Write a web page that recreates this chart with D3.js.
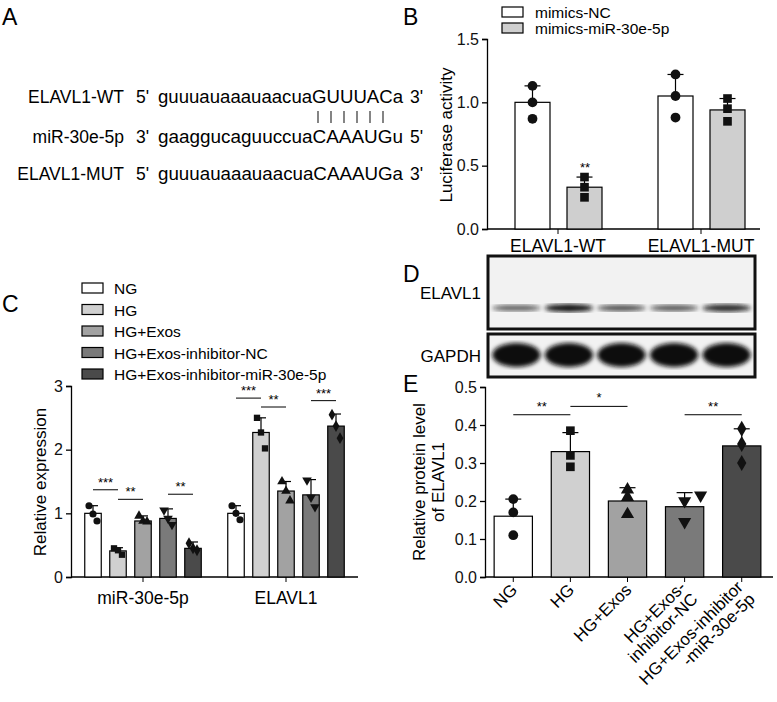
<!DOCTYPE html>
<html><head><meta charset="utf-8">
<script src="https://cdn.jsdelivr.net/npm/d3@7"></script>
<style>body{margin:0;background:#fff}svg{font-family:"Liberation Sans",Arial,sans-serif}</style>
</head><body><svg id="fig" width="777" height="702"></svg>
<script>
// Panel A sequences
const seqNames = ["ELAVL1-WT", "miR-30e-5p", "ELAVL1-MUT"];
const seqStart = ["5'", "3'", "5'"];
const seqBody = ["guuuauaaauaacuaGUUUACa", "gaaggucaguuccuaCAAAUGu", "guuuauaaauaacuaCAAAUGa"];
const seqEnd = ["3'", "5'", "3'"];

// Panel B
const bGroups = ["ELAVL1-WT", "ELAVL1-MUT"];
const bSeries = ["mimics-NC", "mimics-miR-30e-5p"];
const bMeans = [[1.0, 0.33], [1.05, 0.94]];
const bErr = [[1.13, 0.41], [1.22, 1.03]];
const bPoints = [[[1.13, 1.0, 0.87], [0.41, 0.33, 0.25]], [[1.22, 1.05, 0.88], [1.03, 0.95, 0.85]]];

// Panel C
const cGroups = ["miR-30e-5p", "ELAVL1"];
const cSeries = ["NG", "HG", "HG+Exos", "HG+Exos-inhibitor-NC", "HG+Exos-inhibitor-miR-30e-5p"];
const cColors = ["#ffffff", "#d0d0d0", "#a2a2a2", "#7a7a7a", "#4a4a4a"];
const cMeans = [[1.0, 0.41, 0.88, 0.92, 0.45], [1.0, 2.27, 1.35, 1.29, 2.37]];
const cErr = [[1.12, 0.46, 0.96, 1.07, 0.55], [1.12, 2.5, 1.5, 1.53, 2.56]];
const cPoints = [
  [[1.12, 0.99, 0.88], [0.45, 0.42, 0.35], [0.96, 0.88, 0.87], [1.05, 0.92, 0.82], [0.53, 0.45, 0.42]],
  [[1.12, 1.0, 0.9], [2.5, 2.27, 2.02], [1.5, 1.35, 1.2], [1.52, 1.25, 1.1], [2.55, 2.37, 2.18]]
];
const cSig = [[0, 0, 1, 1.37, "***"], [0, 1, 2, 1.22, "**"], [0, 3, 4, 1.3, "**"],
              [1, 0, 1, 2.81, "***"], [1, 1, 2, 2.67, "**"], [1, 3, 4, 2.77, "***"]];

// Panel D blot (relative band strength)
const elavlBands = [0.45, 0.95, 0.55, 0.5, 0.8];
const gapdhBands = [1, 1, 1, 1, 1];

// Panel E
const eLabels = [["NG"], ["HG"], ["HG+Exos"], ["HG+Exos-", "inhibitor-NC"], ["HG+Exos-inhibitor", "-miR-30e-5p"]];
const eMeans = [0.16, 0.33, 0.20, 0.185, 0.345];
const eErr = [0.205, 0.38, 0.235, 0.222, 0.39];
const ePoints = [[0.205, 0.17, 0.11], [0.385, 0.32, 0.29], [0.23, 0.21, 0.165], [0.2, 0.145, 0.215], [0.39, 0.35, 0.3]];
const eSig = [[0, 1, 0.427, "**"], [1, 2, 0.449, "*"], [3, 4, 0.427, "**"]];

const shapes = [d3.symbolCircle, d3.symbolSquare, d3.symbolTriangle, "down", d3.symbolDiamond];
const svg = d3.select("#fig");

function mark(g, x, y, si, size) {
  let t = shapes[si];
  let p;
  if (t === "down") p = g.append("path").attr("d", d3.symbol(d3.symbolTriangle, size)()).attr("transform", `translate(${x},${y}) rotate(180)`);
  else p = g.append("path").attr("d", d3.symbol(t, size)()).attr("transform", `translate(${x},${y})`);
  p.attr("fill", "#111");
}
function panelLabel(t, x, y) {
  svg.append("text").attr("x", x).attr("y", y).attr("font-size", 23).text(t);
}
function styleAxis(a) {
  a.selectAll("text").attr("font-size", 16).attr("fill", "#111");
  a.selectAll("line,path").attr("stroke-width", 1.3);
}

// ---------- A
panelLabel("A", 2, 25);
const gA = svg.append("g");
const rowY = [103, 143, 180];
seqNames.forEach((n, i) => {
  gA.append("text").attr("x", 124).attr("y", rowY[i]).attr("text-anchor", "end").attr("font-size", 17.5).text(n);
  gA.append("text").attr("x", 136).attr("y", rowY[i]).attr("font-size", 17.5).text(seqStart[i]);
  gA.append("text").attr("x", 158).attr("y", rowY[i]).attr("font-size", 17.5).attr("textLength", 245).attr("lengthAdjust", "spacingAndGlyphs").text(seqBody[i]);
  gA.append("text").attr("x", 410).attr("y", rowY[i]).attr("font-size", 17.5).text(seqEnd[i]);
});
d3.range(6).forEach(i => {
  const x = 318 + i * 13;
  gA.append("line").attr("x1", x).attr("x2", x).attr("y1", 111).attr("y2", 123).attr("stroke", "#333").attr("stroke-width", 1.2);
});

// ---------- B
panelLabel("B", 403, 25);
{
  const g = svg.append("g");
  const y = d3.scaleLinear().domain([0, 1.5]).range([229, 39]);
  const bw = 35;
  const offs = [-43, 9];
  g.append("g").attr("transform", "translate(487,0)").call(d3.axisLeft(y).tickValues([0, 0.5, 1.0, 1.5]).tickFormat(d3.format(".1f")).tickSize(5)).call(styleAxis);
  g.append("line").attr("x1", 487).attr("x2", 760).attr("y1", 229).attr("y2", 229).attr("stroke", "#000").attr("stroke-width", 1.3);
  const gc = [558, 701];
  bGroups.forEach((gn, gi) => {
    g.append("line").attr("x1", gc[gi]).attr("x2", gc[gi]).attr("y1", 229).attr("y2", 234).attr("stroke", "#000");
    g.append("text").attr("x", gc[gi]).attr("y", 252).attr("text-anchor", "middle").attr("font-size", 17.5).text(gn);
    bSeries.forEach((s, si) => {
      const bx = gc[gi] + offs[si];
      const cx = bx + bw / 2;
      g.append("rect").attr("x", bx).attr("y", y(bMeans[gi][si])).attr("width", bw).attr("height", y(0) - y(bMeans[gi][si]))
        .attr("fill", si ? "#cfcfcf" : "#fff").attr("stroke", "#000").attr("stroke-width", 1.2);
      g.append("line").attr("x1", cx).attr("x2", cx).attr("y1", y(bMeans[gi][si])).attr("y2", y(bErr[gi][si])).attr("stroke", "#000").attr("stroke-width", 1.2);
      g.append("line").attr("x1", cx - 8).attr("x2", cx + 8).attr("y1", y(bErr[gi][si])).attr("y2", y(bErr[gi][si])).attr("stroke", "#000").attr("stroke-width", 1.2);
      bPoints[gi][si].forEach(v => mark(g, cx, y(v), si, 75));
    });
  });
  g.append("text").attr("x", 585).attr("y", y(0.45)).attr("text-anchor", "middle").attr("font-size", 13).text("**");
  g.append("text").attr("transform", "translate(452,135) rotate(-90)").attr("text-anchor", "middle").attr("font-size", 17).text("Luciferase activity");
  bSeries.forEach((s, si) => {
    g.append("rect").attr("x", 502).attr("y", 7 + si * 16).attr("width", 21).attr("height", 10).attr("fill", si ? "#cfcfcf" : "#fff").attr("stroke", "#000").attr("stroke-width", 1.2);
    g.append("text").attr("x", 535).attr("y", 18 + si * 16).attr("font-size", 15.5).text(s);
  });
}

// ---------- C
panelLabel("C", 2, 312);
{
  const g = svg.append("g");
  const y = d3.scaleLinear().domain([0, 3]).range([577, 386]);
  g.append("g").attr("transform", "translate(71,0)").call(d3.axisLeft(y).ticks(3).tickSize(5)).call(styleAxis);
  g.append("line").attr("x1", 71).attr("x2", 358).attr("y1", 577).attr("y2", 577).attr("stroke", "#000").attr("stroke-width", 1.3);
  const gc = [143, 286];
  const bw = 16.5;
  const step = 25;
  cGroups.forEach((gn, gi) => {
    g.append("line").attr("x1", gc[gi]).attr("x2", gc[gi]).attr("y1", 577).attr("y2", 582).attr("stroke", "#000");
    g.append("text").attr("x", gc[gi]).attr("y", 604).attr("text-anchor", "middle").attr("font-size", 17.5).text(gn);
    cSeries.forEach((s, si) => {
      const cx = gc[gi] + (si - 2) * step;
      g.append("rect").attr("x", cx - bw / 2).attr("y", y(cMeans[gi][si])).attr("width", bw).attr("height", y(0) - y(cMeans[gi][si]))
        .attr("fill", cColors[si]).attr("stroke", "#000").attr("stroke-width", 1.2);
      g.append("line").attr("x1", cx).attr("x2", cx).attr("y1", y(cMeans[gi][si])).attr("y2", y(cErr[gi][si])).attr("stroke", "#000").attr("stroke-width", 1.2);
      g.append("line").attr("x1", cx - 5).attr("x2", cx + 5).attr("y1", y(cErr[gi][si])).attr("y2", y(cErr[gi][si])).attr("stroke", "#000").attr("stroke-width", 1.2);
      cPoints[gi][si].forEach((v, k) => mark(g, cx + (k - 1) * 4, y(v), si, 40));
    });
  });
  cSig.forEach(([gi, a, b, v, t]) => {
    const xa = gc[gi] + (a - 2) * step, xb = gc[gi] + (b - 2) * step;
    g.append("line").attr("x1", xa).attr("x2", xb).attr("y1", y(v)).attr("y2", y(v)).attr("stroke", "#000");
    g.append("text").attr("x", (xa + xb) / 2).attr("y", y(v) - 3).attr("text-anchor", "middle").attr("font-size", 13).text(t);
  });
  g.append("text").attr("transform", "translate(46,482) rotate(-90)").attr("text-anchor", "middle").attr("font-size", 17).text("Relative expression");
  cSeries.forEach((s, si) => {
    const yy = 288 + si * 21.5;
    g.append("rect").attr("x", 82).attr("y", yy - 5).attr("width", 21).attr("height", 10).attr("fill", cColors[si]).attr("stroke", "#000").attr("stroke-width", 1.2);
    g.append("text").attr("x", 114).attr("y", yy + 6).attr("font-size", 15.5).text(s);
  });
}

// ---------- D
panelLabel("D", 403, 282);
{
  const g = svg.append("g");
  const defs = svg.append("defs");
  defs.append("filter").attr("id", "blur").append("feGaussianBlur").attr("stdDeviation", 2.2);
  const lane = d3.scaleBand().domain(d3.range(5)).range([488, 755]).padding(0.08);
  const boxes = [[256, 329, elavlBands, 308, 8, "ELAVL1"], [334, 377, gapdhBands, 355, 24, "GAPDH"]];
  boxes.forEach(([t, b, vals, cy, h, name]) => {
    g.append("rect").attr("x", 488).attr("y", t).attr("width", 267).attr("height", b - t).attr("fill", "#f2f2f2").attr("stroke", "#111").attr("stroke-width", 3);
    vals.forEach((v, i) => {
      g.append("ellipse").attr("cx", lane(i) + lane.bandwidth() / 2).attr("cy", cy).attr("rx", lane.bandwidth() / 2)
        .attr("ry", h / 2 * (0.6 + 0.4 * v)).attr("fill", "#111").attr("opacity", 0.3 + 0.7 * v).attr("filter", "url(#blur)");
    });
    g.append("text").attr("x", 481).attr("y", (t + b) / 2 + 6).attr("text-anchor", "end").attr("font-size", 17).text(name);
  });
}

// ---------- E
panelLabel("E", 403, 392);
{
  const g = svg.append("g");
  const y = d3.scaleLinear().domain([0, 0.5]).range([577, 387]);
  const x = d3.scaleBand().domain(d3.range(5)).range([485, 770]).paddingInner(0.33).paddingOuter(0.16);
  g.append("g").attr("transform", "translate(485,0)").call(d3.axisLeft(y).ticks(5).tickFormat(d3.format(".1f")).tickSize(5)).call(styleAxis);
  g.append("line").attr("x1", 485).attr("x2", 773).attr("y1", 577).attr("y2", 577).attr("stroke", "#000").attr("stroke-width", 1.3);
  eMeans.forEach((m, i) => {
    const cx = x(i) + x.bandwidth() / 2;
    g.append("rect").attr("x", x(i)).attr("y", y(m)).attr("width", x.bandwidth()).attr("height", y(0) - y(m))
      .attr("fill", cColors[i]).attr("stroke", "#000").attr("stroke-width", 1.2);
    g.append("line").attr("x1", cx).attr("x2", cx).attr("y1", y(m)).attr("y2", y(eErr[i])).attr("stroke", "#000").attr("stroke-width", 1.2);
    g.append("line").attr("x1", cx - 8).attr("x2", cx + 8).attr("y1", y(eErr[i])).attr("y2", y(eErr[i])).attr("stroke", "#000").attr("stroke-width", 1.2);
    ePoints[i].forEach((v, k) => mark(g, cx + (i === 3 && k === 2 ? 16 : 0), y(v), i, 75));
    g.append("line").attr("x1", cx).attr("x2", cx).attr("y1", 577).attr("y2", 582).attr("stroke", "#000");
    const lab = g.append("text").attr("transform", `translate(${cx + 5},${591}) rotate(-45)`).attr("text-anchor", "end").attr("font-size", 17);
    eLabels[i].forEach((l, k) => lab.append("tspan").attr("x", 0).attr("dy", k ? 17 : (eLabels[i].length > 1 ? -4 : 0)).text(l));
  });
  eSig.forEach(([a, b, v, t]) => {
    const xa = x(a) + x.bandwidth() / 2, xb = x(b) + x.bandwidth() / 2;
    g.append("line").attr("x1", xa).attr("x2", xb).attr("y1", y(v)).attr("y2", y(v)).attr("stroke", "#000");
    g.append("text").attr("x", (xa + xb) / 2).attr("y", y(v) - 4).attr("text-anchor", "middle").attr("font-size", 13).text(t);
  });
  const yl = g.append("text").attr("transform", "translate(425,482) rotate(-90)").attr("text-anchor", "middle").attr("font-size", 17);
  yl.append("tspan").attr("x", 0).attr("dy", 0).text("Relative protein level");
  yl.append("tspan").attr("x", 0).attr("dy", 19).text("of ELAVL1");
}
</script></body></html>
